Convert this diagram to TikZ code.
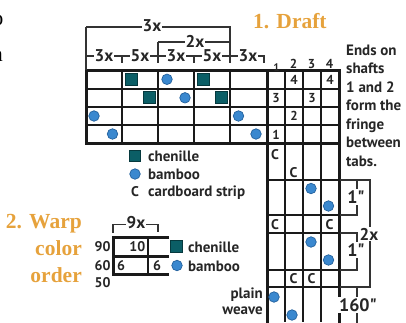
\documentclass[tikz,border=0pt]{standalone}
\usepackage{fontspec}
\setmainfont{PT Sans}[Ligatures=TeXOff]
\newfontfamily\headfont{Liberation Serif}
\definecolor{titleorange}{HTML}{E6A23C}
\definecolor{chenille}{HTML}{0B5E66}
\definecolor{chenilleedge}{HTML}{06393E}
\definecolor{bamboo}{HTML}{3A88CF}
\definecolor{bambooedge}{HTML}{22609C}
\definecolor{ink}{HTML}{1A1A1A}
\tikzset{
  gridthick/.style={line width=3pt, ink, line cap=rect},
  gridthin/.style={line width=2pt, ink},
  brk/.style={line width=1.1pt, black!80},
  lbl/.style={font=\fontsize{17}{17}\selectfont\bfseries, fill=white, inner sep=1.2pt, text=black!85},
  chensq/.style={rectangle, minimum size=12pt, inner sep=0pt, fill=chenille, draw=chenilleedge, line width=0.7pt},
  bambdot/.style={circle, minimum size=10.5pt, inner sep=0pt, fill=bamboo, draw=bambooedge, line width=0.7pt},
  num/.style={font=\fontsize{13}{13}\selectfont\bfseries, inner sep=0pt, text=black!85},
  cstrip/.style={font=\fontsize{14}{14}\selectfont\bfseries, inner sep=0pt, text=black!85},
  txt/.style={font=\fontsize{15}{18}\selectfont\bfseries, inner sep=0pt, text=black!85},
  headtxt/.style={font=\headfont\fontsize{21.5}{24}\selectfont\bfseries, inner sep=0pt, text=titleorange},
}
\begin{document}
\begin{tikzpicture}[x=1pt, y=-1pt]
\useasboundingbox (0,0) rectangle (406,322);

% cut-off letters of the neighbouring column
\node[font=\headfont\fontsize{22}{22}\selectfont, anchor=base east, inner sep=0pt] (edgeA) at (3.5,25) {o};
\node[font=\headfont\fontsize{22}{22}\selectfont, anchor=base east, inner sep=0pt] (edgeB) at (3,61) {n};

% ---------- threading, tie-up and treadling grid ----------
\foreach \x in {122,158,194,230}
  \draw[gridthin] (\x,70) -- (\x,143);
\foreach \x in {285,303,321}
  \draw[gridthin] (\x,70) -- (\x,322);
\foreach \y in {88.5,107,125}
  \draw[gridthin] (86,\y) -- (339,\y);
\foreach \y in {180,215,233,270,287}
  \draw[gridthin] (267,\y) -- (339,\y);
\draw[gridthick] (86,70) -- (339,70);
\draw[gridthick] (86,143) -- (339,143);
\draw[gridthick] (86,70) -- (86,143);
\draw[gridthick, line cap=butt] (267,70) -- (267,323);
\draw[gridthick, line cap=butt] (339,70) -- (339,323);

% threading
\foreach \x/\y [count=\i] in {131/79.3, 203/79.3, 149/97.8, 221/97.8}
  \node[chensq] (tc\i) at (\x,\y) {};
\foreach \x/\y [count=\i] in {167/79.3, 185/97.8, 94/116, 238.5/116, 112.5/134, 256/134}
  \node[bambdot] (tb\i) at (\x,\y) {};

% tie-up
\node[num] (tu4a) at (294,79.5) {4};
\node[num] (tu4b) at (330,79.5) {4};
\node[num] (tu3a) at (276,98) {3};
\node[num] (tu3b) at (312,98) {3};
\node[num] (tu2) at (294,116) {2};
\node[num] (tu1) at (276,134.5) {1};

% shaft numbers
\node[font=\fontsize{11}{11}\selectfont\bfseries, inner sep=0pt, text=black!85] (sh1) at (276.5,68) {1};
\node[num] (sh2) at (293.5,64) {2};
\node[num] (sh3) at (311.5,64) {3};
\node[num] (sh4) at (329.5,64) {4};

% treadling
\foreach \x/\y [count=\i] in {275/155, 293.5/172.5, 275/224.5, 329.5/224.5, 293.5/279, 311.5/279}
  \node[cstrip] (tr\i) at (\x,\y) {C};
\foreach \x/\y [count=\i] in {311/188.5, 328.5/206, 311/242, 328.5/260, 274/297, 292/315}
  \node[bambdot] (td\i) at (\x,\y) {};

% ---------- repeat brackets over the threading ----------
\draw[brk] (86,27) -- (86,70);
\draw[brk] (86,27) -- (230,27) -- (230,63);
\draw[brk] (158,42) -- (158,63);
\draw[brk] (158,42) -- (230,42);
\draw[brk] (86,56) -- (264,56) -- (264,63);
\foreach \x in {122,194}
  \draw[brk] (\x,56) -- (\x,63);
\node[lbl] (r3all) at (152,25.5) {3x};
\node[lbl] (r2) at (195,41) {2x};
\foreach \x/\t [count=\i] in {104/3x, 140/5x, 176/3x, 212/5x, 248/3x}
  \node[lbl] (rep\i) at (\x,55.5) {\t};

% ---------- repeat brackets beside the treadling ----------
\draw[brk] (340,180) -- (370,180) -- (370,287) -- (340,287);
\draw[brk] (340,180) -- (357,180) -- (357,215) -- (340,215);
\draw[brk] (340,233) -- (357,233) -- (357,270) -- (340,270);
\draw[brk] (357,287) -- (357,323);
\node[lbl, font=\fontsize{18}{18}\selectfont\bfseries] (inchA) at (356,197) {1"};
\node[lbl, font=\fontsize{18}{18}\selectfont\bfseries] (inchB) at (356,250) {1"};
\node[lbl] (r2b) at (369,234) {2x};
\node[lbl, font=\fontsize{18}{18}\selectfont\bfseries] (length) at (358,305) {160"};

% ---------- titles ----------
\node[headtxt, anchor=base west] (draft) at (253,28) {1. Draft};
\node[headtxt, anchor=base east] (warpA) at (82,228) {2. Warp};
\node[headtxt, anchor=base east] (warpB) at (82,255) {color};
\node[headtxt, anchor=base east] (warpC) at (82,282) {order};

% ---------- note ----------
\foreach \t/\y [count=\i] in {Ends on/55, shafts/73.5, 1 and 2/92, form the/110.5, fringe/129, between/147.5, tabs./166}
  \node[txt, anchor=base west] (note\i) at (346,\y) {\t};

% ---------- key ----------
\node[chensq, minimum size=11pt] (keyC) at (135,156) {};
\node[bambdot] (keyB) at (135,174) {};
\node[cstrip] (keyS) at (135,192) {C};
\node[txt, anchor=base west] (keyCt) at (148,161.5) {chenille};
\node[txt, anchor=base west] (keyBt) at (148,179) {bamboo};
\node[txt, anchor=base west] (keySt) at (148,196.5) {cardboard strip};

% ---------- warp colour order ----------
\draw[brk] (113,233) -- (113,224.5) -- (158,224.5) -- (158,232);
\node[lbl] (nine) at (136,222.5) {9x};
\draw[gridthick] (113,237) -- (167,237);
\draw[gridthick] (113,256) -- (167,256);
\draw[gridthick] (113,274) -- (167,274);
\draw[gridthick] (113,237) -- (113,274);
\draw[gridthin] (148,237) -- (148,274);
\node[num, font=\fontsize{14}{14}\selectfont\bfseries, anchor=east] (w10) at (145.5,247) {10};
\node[num, font=\fontsize{14}{14}\selectfont\bfseries] (w6a) at (121,265.5) {6};
\node[num, font=\fontsize{14}{14}\selectfont\bfseries] (w6b) at (157,265.5) {6};
\node[num, font=\fontsize{14}{14}\selectfont\bfseries] (c90) at (102.5,247) {90};
\node[num, font=\fontsize{14}{14}\selectfont\bfseries] (c60) at (102.5,265.5) {60};
\node[num, font=\fontsize{14}{14}\selectfont\bfseries] (c50) at (102.5,283) {50};
\node[chensq] (wC) at (176,246.5) {};
\node[bambdot] (wB) at (177,265.5) {};
\node[txt, anchor=base west] (wCt) at (188,252.5) {chenille};
\node[txt, anchor=base west] (wBt) at (188,271) {bamboo};

% ---------- plain weave ----------
\node[txt, anchor=base east] (plainA) at (263,298) {plain};
\node[txt, anchor=base east] (plainB) at (263,314) {weave};
\end{tikzpicture}
\end{document}
